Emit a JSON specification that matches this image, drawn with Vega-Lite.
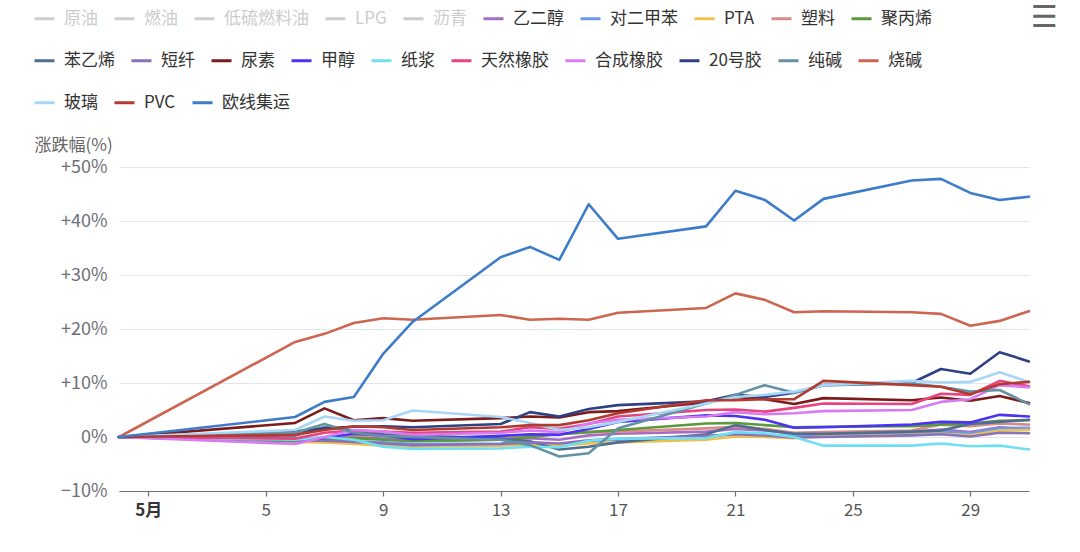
{
  "$schema": "https://vega.github.io/schema/vega-lite/v6.json",
  "autosize": "none",
  "width": 910,
  "height": 324,
  "padding": {"left": 119, "top": 167, "right": 51, "bottom": 61},
  "background": "#ffffff",
  "title": {"text": "☰", "anchor": "end", "frame": "group", "dx": 29, "dy": 30, "fontSize": 30, "font": "DejaVu Sans", "color": "#666666", "fontWeight": "normal"},
  "config": {
    "view": {"stroke": null},
    "font": "Noto Sans CJK SC",
    "legend": {
      "title": null, "orient": "none", "legendX": -86,
      "direction": "horizontal",
      "symbolType": "stroke", "symbolSize": 400, "symbolStrokeWidth": 3,
      "labelFontSize": 17, "labelOffset": 8, "columnPadding": 10,
      "labelColor": "#333333", "labelLimit": 300
    }
  },
  "data": {"values": [
    {"s":"乙二醇","d":"2024-04-30","v":0},{"s":"乙二醇","d":"2024-05-06","v":-1.0},{"s":"乙二醇","d":"2024-05-07","v":-0.4},{"s":"乙二醇","d":"2024-05-08","v":0.0},{"s":"乙二醇","d":"2024-05-09","v":-0.3},{"s":"乙二醇","d":"2024-05-10","v":-0.7},{"s":"乙二醇","d":"2024-05-13","v":-0.5},{"s":"乙二醇","d":"2024-05-14","v":-0.2},{"s":"乙二醇","d":"2024-05-15","v":-0.5},{"s":"乙二醇","d":"2024-05-16","v":0.3},{"s":"乙二醇","d":"2024-05-17","v":0.6},{"s":"乙二醇","d":"2024-05-20","v":1.0},{"s":"乙二醇","d":"2024-05-21","v":1.5},{"s":"乙二醇","d":"2024-05-22","v":1.2},{"s":"乙二醇","d":"2024-05-23","v":0.6},{"s":"乙二醇","d":"2024-05-24","v":0.8},{"s":"乙二醇","d":"2024-05-27","v":1.0},{"s":"乙二醇","d":"2024-05-28","v":1.4},{"s":"乙二醇","d":"2024-05-29","v":0.9},{"s":"乙二醇","d":"2024-05-30","v":1.8},{"s":"乙二醇","d":"2024-05-31","v":1.5},
    {"s":"对二甲苯","d":"2024-04-30","v":0},{"s":"对二甲苯","d":"2024-05-06","v":-0.5},{"s":"对二甲苯","d":"2024-05-07","v":-0.6},{"s":"对二甲苯","d":"2024-05-08","v":-0.8},{"s":"对二甲苯","d":"2024-05-09","v":-1.0},{"s":"对二甲苯","d":"2024-05-10","v":-1.3},{"s":"对二甲苯","d":"2024-05-13","v":-1.2},{"s":"对二甲苯","d":"2024-05-14","v":-1.0},{"s":"对二甲苯","d":"2024-05-15","v":-1.4},{"s":"对二甲苯","d":"2024-05-16","v":-0.8},{"s":"对二甲苯","d":"2024-05-17","v":-0.5},{"s":"对二甲苯","d":"2024-05-20","v":0.0},{"s":"对二甲苯","d":"2024-05-21","v":0.6},{"s":"对二甲苯","d":"2024-05-22","v":0.4},{"s":"对二甲苯","d":"2024-05-23","v":0.2},{"s":"对二甲苯","d":"2024-05-24","v":0.4},{"s":"对二甲苯","d":"2024-05-27","v":0.7},{"s":"对二甲苯","d":"2024-05-28","v":1.0},{"s":"对二甲苯","d":"2024-05-29","v":0.7},{"s":"对二甲苯","d":"2024-05-30","v":1.6},{"s":"对二甲苯","d":"2024-05-31","v":1.7},
    {"s":"PTA","d":"2024-04-30","v":0},{"s":"PTA","d":"2024-05-06","v":-0.9},{"s":"PTA","d":"2024-05-07","v":-1.0},{"s":"PTA","d":"2024-05-08","v":-1.3},{"s":"PTA","d":"2024-05-09","v":-1.6},{"s":"PTA","d":"2024-05-10","v":-1.8},{"s":"PTA","d":"2024-05-13","v":-1.6},{"s":"PTA","d":"2024-05-14","v":-1.5},{"s":"PTA","d":"2024-05-15","v":-1.6},{"s":"PTA","d":"2024-05-16","v":-1.2},{"s":"PTA","d":"2024-05-17","v":-1.0},{"s":"PTA","d":"2024-05-20","v":-0.5},{"s":"PTA","d":"2024-05-21","v":0.1},{"s":"PTA","d":"2024-05-22","v":0.0},{"s":"PTA","d":"2024-05-23","v":-0.2},{"s":"PTA","d":"2024-05-24","v":0.1},{"s":"PTA","d":"2024-05-27","v":0.4},{"s":"PTA","d":"2024-05-28","v":0.6},{"s":"PTA","d":"2024-05-29","v":0.3},{"s":"PTA","d":"2024-05-30","v":1.2},{"s":"PTA","d":"2024-05-31","v":1.3},
    {"s":"塑料","d":"2024-04-30","v":0},{"s":"塑料","d":"2024-05-06","v":-0.3},{"s":"塑料","d":"2024-05-07","v":-0.1},{"s":"塑料","d":"2024-05-08","v":0.4},{"s":"塑料","d":"2024-05-09","v":0.2},{"s":"塑料","d":"2024-05-10","v":-0.2},{"s":"塑料","d":"2024-05-13","v":0.0},{"s":"塑料","d":"2024-05-14","v":0.3},{"s":"塑料","d":"2024-05-15","v":0.5},{"s":"塑料","d":"2024-05-16","v":0.9},{"s":"塑料","d":"2024-05-17","v":1.0},{"s":"塑料","d":"2024-05-20","v":1.6},{"s":"塑料","d":"2024-05-21","v":1.9},{"s":"塑料","d":"2024-05-22","v":1.5},{"s":"塑料","d":"2024-05-23","v":0.8},{"s":"塑料","d":"2024-05-24","v":0.9},{"s":"塑料","d":"2024-05-27","v":1.2},{"s":"塑料","d":"2024-05-28","v":2.3},{"s":"塑料","d":"2024-05-29","v":2.0},{"s":"塑料","d":"2024-05-30","v":2.5},{"s":"塑料","d":"2024-05-31","v":2.3},
    {"s":"聚丙烯","d":"2024-04-30","v":0},{"s":"聚丙烯","d":"2024-05-06","v":-0.8},{"s":"聚丙烯","d":"2024-05-07","v":-0.5},{"s":"聚丙烯","d":"2024-05-08","v":-0.2},{"s":"聚丙烯","d":"2024-05-09","v":-0.5},{"s":"聚丙烯","d":"2024-05-10","v":-0.8},{"s":"聚丙烯","d":"2024-05-13","v":-0.5},{"s":"聚丙烯","d":"2024-05-14","v":0.0},{"s":"聚丙烯","d":"2024-05-15","v":0.5},{"s":"聚丙烯","d":"2024-05-16","v":0.9},{"s":"聚丙烯","d":"2024-05-17","v":1.3},{"s":"聚丙烯","d":"2024-05-20","v":2.5},{"s":"聚丙烯","d":"2024-05-21","v":2.6},{"s":"聚丙烯","d":"2024-05-22","v":2.2},{"s":"聚丙烯","d":"2024-05-23","v":1.8},{"s":"聚丙烯","d":"2024-05-24","v":1.9},{"s":"聚丙烯","d":"2024-05-27","v":2.0},{"s":"聚丙烯","d":"2024-05-28","v":2.3},{"s":"聚丙烯","d":"2024-05-29","v":2.5},{"s":"聚丙烯","d":"2024-05-30","v":3.0},{"s":"聚丙烯","d":"2024-05-31","v":3.1},
    {"s":"苯乙烯","d":"2024-04-30","v":0},{"s":"苯乙烯","d":"2024-05-06","v":0.3},{"s":"苯乙烯","d":"2024-05-07","v":1.8},{"s":"苯乙烯","d":"2024-05-08","v":1.2},{"s":"苯乙烯","d":"2024-05-09","v":0.5},{"s":"苯乙烯","d":"2024-05-10","v":0.3},{"s":"苯乙烯","d":"2024-05-13","v":-0.3},{"s":"苯乙烯","d":"2024-05-14","v":-0.8},{"s":"苯乙烯","d":"2024-05-15","v":-2.3},{"s":"苯乙烯","d":"2024-05-16","v":-1.8},{"s":"苯乙烯","d":"2024-05-17","v":-1.0},{"s":"苯乙烯","d":"2024-05-20","v":0.5},{"s":"苯乙烯","d":"2024-05-21","v":2.2},{"s":"苯乙烯","d":"2024-05-22","v":1.3},{"s":"苯乙烯","d":"2024-05-23","v":0.6},{"s":"苯乙烯","d":"2024-05-24","v":0.6},{"s":"苯乙烯","d":"2024-05-27","v":1.0},{"s":"苯乙烯","d":"2024-05-28","v":1.2},{"s":"苯乙烯","d":"2024-05-29","v":2.4},{"s":"苯乙烯","d":"2024-05-30","v":2.8},{"s":"苯乙烯","d":"2024-05-31","v":3.2},
    {"s":"短纤","d":"2024-04-30","v":0},{"s":"短纤","d":"2024-05-06","v":-0.6},{"s":"短纤","d":"2024-05-07","v":-0.7},{"s":"短纤","d":"2024-05-08","v":-0.9},{"s":"短纤","d":"2024-05-09","v":-1.2},{"s":"短纤","d":"2024-05-10","v":-1.5},{"s":"短纤","d":"2024-05-13","v":-1.3},{"s":"短纤","d":"2024-05-14","v":-1.0},{"s":"短纤","d":"2024-05-15","v":-1.2},{"s":"短纤","d":"2024-05-16","v":-0.6},{"s":"短纤","d":"2024-05-17","v":-0.4},{"s":"短纤","d":"2024-05-20","v":0.2},{"s":"短纤","d":"2024-05-21","v":0.5},{"s":"短纤","d":"2024-05-22","v":0.3},{"s":"短纤","d":"2024-05-23","v":-0.1},{"s":"短纤","d":"2024-05-24","v":0.0},{"s":"短纤","d":"2024-05-27","v":0.3},{"s":"短纤","d":"2024-05-28","v":0.5},{"s":"短纤","d":"2024-05-29","v":0.1},{"s":"短纤","d":"2024-05-30","v":0.8},{"s":"短纤","d":"2024-05-31","v":0.7},
    {"s":"尿素","d":"2024-04-30","v":0},{"s":"尿素","d":"2024-05-06","v":2.6},{"s":"尿素","d":"2024-05-07","v":5.3},{"s":"尿素","d":"2024-05-08","v":3.1},{"s":"尿素","d":"2024-05-09","v":3.5},{"s":"尿素","d":"2024-05-10","v":3.0},{"s":"尿素","d":"2024-05-13","v":3.5},{"s":"尿素","d":"2024-05-14","v":3.8},{"s":"尿素","d":"2024-05-15","v":3.6},{"s":"尿素","d":"2024-05-16","v":4.6},{"s":"尿素","d":"2024-05-17","v":4.8},{"s":"尿素","d":"2024-05-20","v":6.4},{"s":"尿素","d":"2024-05-21","v":7.4},{"s":"尿素","d":"2024-05-22","v":7.0},{"s":"尿素","d":"2024-05-23","v":6.1},{"s":"尿素","d":"2024-05-24","v":7.2},{"s":"尿素","d":"2024-05-27","v":6.8},{"s":"尿素","d":"2024-05-28","v":7.3},{"s":"尿素","d":"2024-05-29","v":6.7},{"s":"尿素","d":"2024-05-30","v":7.6},{"s":"尿素","d":"2024-05-31","v":6.3},
    {"s":"甲醇","d":"2024-04-30","v":0},{"s":"甲醇","d":"2024-05-06","v":-0.4},{"s":"甲醇","d":"2024-05-07","v":-0.2},{"s":"甲醇","d":"2024-05-08","v":0.6},{"s":"甲醇","d":"2024-05-09","v":0.3},{"s":"甲醇","d":"2024-05-10","v":-0.4},{"s":"甲醇","d":"2024-05-13","v":0.2},{"s":"甲醇","d":"2024-05-14","v":0.5},{"s":"甲醇","d":"2024-05-15","v":0.4},{"s":"甲醇","d":"2024-05-16","v":1.5},{"s":"甲醇","d":"2024-05-17","v":2.8},{"s":"甲醇","d":"2024-05-20","v":4.0},{"s":"甲醇","d":"2024-05-21","v":3.9},{"s":"甲醇","d":"2024-05-22","v":3.2},{"s":"甲醇","d":"2024-05-23","v":1.7},{"s":"甲醇","d":"2024-05-24","v":1.8},{"s":"甲醇","d":"2024-05-27","v":2.3},{"s":"甲醇","d":"2024-05-28","v":2.8},{"s":"甲醇","d":"2024-05-29","v":2.7},{"s":"甲醇","d":"2024-05-30","v":4.1},{"s":"甲醇","d":"2024-05-31","v":3.8},
    {"s":"纸浆","d":"2024-04-30","v":0},{"s":"纸浆","d":"2024-05-06","v":-0.5},{"s":"纸浆","d":"2024-05-07","v":0.0},{"s":"纸浆","d":"2024-05-08","v":-0.5},{"s":"纸浆","d":"2024-05-09","v":-1.8},{"s":"纸浆","d":"2024-05-10","v":-2.2},{"s":"纸浆","d":"2024-05-13","v":-2.1},{"s":"纸浆","d":"2024-05-14","v":-1.8},{"s":"纸浆","d":"2024-05-15","v":-1.9},{"s":"纸浆","d":"2024-05-16","v":-0.7},{"s":"纸浆","d":"2024-05-17","v":-0.3},{"s":"纸浆","d":"2024-05-20","v":-0.2},{"s":"纸浆","d":"2024-05-21","v":0.9},{"s":"纸浆","d":"2024-05-22","v":0.7},{"s":"纸浆","d":"2024-05-23","v":0.0},{"s":"纸浆","d":"2024-05-24","v":-1.6},{"s":"纸浆","d":"2024-05-27","v":-1.6},{"s":"纸浆","d":"2024-05-28","v":-1.2},{"s":"纸浆","d":"2024-05-29","v":-1.7},{"s":"纸浆","d":"2024-05-30","v":-1.6},{"s":"纸浆","d":"2024-05-31","v":-2.3},
    {"s":"天然橡胶","d":"2024-04-30","v":0},{"s":"天然橡胶","d":"2024-05-06","v":-0.3},{"s":"天然橡胶","d":"2024-05-07","v":0.8},{"s":"天然橡胶","d":"2024-05-08","v":1.2},{"s":"天然橡胶","d":"2024-05-09","v":1.0},{"s":"天然橡胶","d":"2024-05-10","v":0.8},{"s":"天然橡胶","d":"2024-05-13","v":1.0},{"s":"天然橡胶","d":"2024-05-14","v":1.8},{"s":"天然橡胶","d":"2024-05-15","v":1.5},{"s":"天然橡胶","d":"2024-05-16","v":2.4},{"s":"天然橡胶","d":"2024-05-17","v":3.8},{"s":"天然橡胶","d":"2024-05-20","v":5.0},{"s":"天然橡胶","d":"2024-05-21","v":5.1},{"s":"天然橡胶","d":"2024-05-22","v":4.7},{"s":"天然橡胶","d":"2024-05-23","v":5.4},{"s":"天然橡胶","d":"2024-05-24","v":6.2},{"s":"天然橡胶","d":"2024-05-27","v":6.1},{"s":"天然橡胶","d":"2024-05-28","v":8.0},{"s":"天然橡胶","d":"2024-05-29","v":7.8},{"s":"天然橡胶","d":"2024-05-30","v":10.4},{"s":"天然橡胶","d":"2024-05-31","v":9.4},
    {"s":"合成橡胶","d":"2024-04-30","v":0},{"s":"合成橡胶","d":"2024-05-06","v":-1.3},{"s":"合成橡胶","d":"2024-05-07","v":0.0},{"s":"合成橡胶","d":"2024-05-08","v":1.3},{"s":"合成橡胶","d":"2024-05-09","v":1.0},{"s":"合成橡胶","d":"2024-05-10","v":0.4},{"s":"合成橡胶","d":"2024-05-13","v":0.8},{"s":"合成橡胶","d":"2024-05-14","v":1.2},{"s":"合成橡胶","d":"2024-05-15","v":0.9},{"s":"合成橡胶","d":"2024-05-16","v":2.5},{"s":"合成橡胶","d":"2024-05-17","v":3.2},{"s":"合成橡胶","d":"2024-05-20","v":3.8},{"s":"合成橡胶","d":"2024-05-21","v":4.6},{"s":"合成橡胶","d":"2024-05-22","v":4.2},{"s":"合成橡胶","d":"2024-05-23","v":4.4},{"s":"合成橡胶","d":"2024-05-24","v":4.8},{"s":"合成橡胶","d":"2024-05-27","v":5.0},{"s":"合成橡胶","d":"2024-05-28","v":6.5},{"s":"合成橡胶","d":"2024-05-29","v":7.0},{"s":"合成橡胶","d":"2024-05-30","v":9.6},{"s":"合成橡胶","d":"2024-05-31","v":9.2},
    {"s":"20号胶","d":"2024-04-30","v":0},{"s":"20号胶","d":"2024-05-06","v":1.0},{"s":"20号胶","d":"2024-05-07","v":1.6},{"s":"20号胶","d":"2024-05-08","v":1.9},{"s":"20号胶","d":"2024-05-09","v":2.0},{"s":"20号胶","d":"2024-05-10","v":1.8},{"s":"20号胶","d":"2024-05-13","v":2.4},{"s":"20号胶","d":"2024-05-14","v":4.6},{"s":"20号胶","d":"2024-05-15","v":3.8},{"s":"20号胶","d":"2024-05-16","v":5.2},{"s":"20号胶","d":"2024-05-17","v":5.9},{"s":"20号胶","d":"2024-05-20","v":6.6},{"s":"20号胶","d":"2024-05-21","v":7.8},{"s":"20号胶","d":"2024-05-22","v":7.4},{"s":"20号胶","d":"2024-05-23","v":8.2},{"s":"20号胶","d":"2024-05-24","v":9.6},{"s":"20号胶","d":"2024-05-27","v":10.0},{"s":"20号胶","d":"2024-05-28","v":12.6},{"s":"20号胶","d":"2024-05-29","v":11.7},{"s":"20号胶","d":"2024-05-30","v":15.7},{"s":"20号胶","d":"2024-05-31","v":14.0},
    {"s":"纯碱","d":"2024-04-30","v":0},{"s":"纯碱","d":"2024-05-06","v":0.8},{"s":"纯碱","d":"2024-05-07","v":2.4},{"s":"纯碱","d":"2024-05-08","v":0.8},{"s":"纯碱","d":"2024-05-09","v":0.2},{"s":"纯碱","d":"2024-05-10","v":0.0},{"s":"纯碱","d":"2024-05-13","v":-0.5},{"s":"纯碱","d":"2024-05-14","v":-1.5},{"s":"纯碱","d":"2024-05-15","v":-3.6},{"s":"纯碱","d":"2024-05-16","v":-3.0},{"s":"纯碱","d":"2024-05-17","v":1.6},{"s":"纯碱","d":"2024-05-20","v":6.2},{"s":"纯碱","d":"2024-05-21","v":7.8},{"s":"纯碱","d":"2024-05-22","v":9.6},{"s":"纯碱","d":"2024-05-23","v":8.2},{"s":"纯碱","d":"2024-05-24","v":9.6},{"s":"纯碱","d":"2024-05-27","v":9.9},{"s":"纯碱","d":"2024-05-28","v":9.3},{"s":"纯碱","d":"2024-05-29","v":8.4},{"s":"纯碱","d":"2024-05-30","v":8.7},{"s":"纯碱","d":"2024-05-31","v":6.1},
    {"s":"烧碱","d":"2024-04-30","v":0},{"s":"烧碱","d":"2024-05-06","v":17.6},{"s":"烧碱","d":"2024-05-07","v":19.1},{"s":"烧碱","d":"2024-05-08","v":21.1},{"s":"烧碱","d":"2024-05-09","v":22.0},{"s":"烧碱","d":"2024-05-10","v":21.7},{"s":"烧碱","d":"2024-05-13","v":22.6},{"s":"烧碱","d":"2024-05-14","v":21.7},{"s":"烧碱","d":"2024-05-15","v":21.9},{"s":"烧碱","d":"2024-05-16","v":21.7},{"s":"烧碱","d":"2024-05-17","v":23.0},{"s":"烧碱","d":"2024-05-20","v":23.9},{"s":"烧碱","d":"2024-05-21","v":26.6},{"s":"烧碱","d":"2024-05-22","v":25.4},{"s":"烧碱","d":"2024-05-23","v":23.1},{"s":"烧碱","d":"2024-05-24","v":23.3},{"s":"烧碱","d":"2024-05-27","v":23.1},{"s":"烧碱","d":"2024-05-28","v":22.8},{"s":"烧碱","d":"2024-05-29","v":20.6},{"s":"烧碱","d":"2024-05-30","v":21.5},{"s":"烧碱","d":"2024-05-31","v":23.3},
    {"s":"玻璃","d":"2024-04-30","v":0},{"s":"玻璃","d":"2024-05-06","v":1.3},{"s":"玻璃","d":"2024-05-07","v":3.8},{"s":"玻璃","d":"2024-05-08","v":3.0},{"s":"玻璃","d":"2024-05-09","v":3.1},{"s":"玻璃","d":"2024-05-10","v":4.9},{"s":"玻璃","d":"2024-05-13","v":3.7},{"s":"玻璃","d":"2024-05-14","v":2.6},{"s":"玻璃","d":"2024-05-15","v":1.3},{"s":"玻璃","d":"2024-05-16","v":1.8},{"s":"玻璃","d":"2024-05-17","v":2.8},{"s":"玻璃","d":"2024-05-20","v":6.2},{"s":"玻璃","d":"2024-05-21","v":7.4},{"s":"玻璃","d":"2024-05-22","v":7.8},{"s":"玻璃","d":"2024-05-23","v":8.4},{"s":"玻璃","d":"2024-05-24","v":9.6},{"s":"玻璃","d":"2024-05-27","v":10.4},{"s":"玻璃","d":"2024-05-28","v":10.1},{"s":"玻璃","d":"2024-05-29","v":10.2},{"s":"玻璃","d":"2024-05-30","v":12.0},{"s":"玻璃","d":"2024-05-31","v":10.2},
    {"s":"PVC","d":"2024-04-30","v":0},{"s":"PVC","d":"2024-05-06","v":0.4},{"s":"PVC","d":"2024-05-07","v":1.3},{"s":"PVC","d":"2024-05-08","v":2.0},{"s":"PVC","d":"2024-05-09","v":1.8},{"s":"PVC","d":"2024-05-10","v":1.3},{"s":"PVC","d":"2024-05-13","v":1.8},{"s":"PVC","d":"2024-05-14","v":2.2},{"s":"PVC","d":"2024-05-15","v":2.2},{"s":"PVC","d":"2024-05-16","v":3.1},{"s":"PVC","d":"2024-05-17","v":4.4},{"s":"PVC","d":"2024-05-20","v":6.8},{"s":"PVC","d":"2024-05-21","v":6.8},{"s":"PVC","d":"2024-05-22","v":7.0},{"s":"PVC","d":"2024-05-23","v":7.0},{"s":"PVC","d":"2024-05-24","v":10.4},{"s":"PVC","d":"2024-05-27","v":9.6},{"s":"PVC","d":"2024-05-28","v":9.3},{"s":"PVC","d":"2024-05-29","v":7.9},{"s":"PVC","d":"2024-05-30","v":9.8},{"s":"PVC","d":"2024-05-31","v":10.2},
    {"s":"欧线集运","d":"2024-04-30","v":0},{"s":"欧线集运","d":"2024-05-06","v":3.7},{"s":"欧线集运","d":"2024-05-07","v":6.5},{"s":"欧线集运","d":"2024-05-08","v":7.4},{"s":"欧线集运","d":"2024-05-09","v":15.4},{"s":"欧线集运","d":"2024-05-10","v":21.3},{"s":"欧线集运","d":"2024-05-13","v":33.3},{"s":"欧线集运","d":"2024-05-14","v":35.2},{"s":"欧线集运","d":"2024-05-15","v":32.8},{"s":"欧线集运","d":"2024-05-16","v":43.1},{"s":"欧线集运","d":"2024-05-17","v":36.7},{"s":"欧线集运","d":"2024-05-20","v":39.0},{"s":"欧线集运","d":"2024-05-21","v":45.6},{"s":"欧线集运","d":"2024-05-22","v":43.9},{"s":"欧线集运","d":"2024-05-23","v":40.1},{"s":"欧线集运","d":"2024-05-24","v":44.1},{"s":"欧线集运","d":"2024-05-27","v":47.5},{"s":"欧线集运","d":"2024-05-28","v":47.8},{"s":"欧线集运","d":"2024-05-29","v":45.2},{"s":"欧线集运","d":"2024-05-30","v":43.9},{"s":"欧线集运","d":"2024-05-31","v":44.5}
  ]},
  "encoding": {
    "x": {
      "field": "d", "type": "temporal",
      "scale": {"type": "utc", "domain": [{"year": 2024, "month": 4, "date": 30, "utc": true}, {"year": 2024, "month": 5, "date": 31, "utc": true}]},
      "axis": {
        "title": null, "grid": false,
        "values": [
          {"year": 2024, "month": 5, "date": 1, "utc": true},
          {"year": 2024, "month": 5, "date": 5, "utc": true},
          {"year": 2024, "month": 5, "date": 9, "utc": true},
          {"year": 2024, "month": 5, "date": 13, "utc": true},
          {"year": 2024, "month": 5, "date": 17, "utc": true},
          {"year": 2024, "month": 5, "date": 21, "utc": true},
          {"year": 2024, "month": 5, "date": 25, "utc": true},
          {"year": 2024, "month": 5, "date": 29, "utc": true}
        ],
        "labelExpr": "utcdate(datum.value) == 1 ? '5月' : '' + utcdate(datum.value)",
        "labelFontSize": 17, "labelColor": {"condition": {"test": "utcdate(datum.value) == 1", "value": "#333333"}, "value": "#555555"},
        "labelFontWeight": {"condition": {"test": "utcdate(datum.value) == 1", "value": "bold"}, "value": "normal"},
        "labelPadding": 6, "labelFlush": false,
        "domainColor": "#6e7079", "domainWidth": 1.2, "tickColor": "#6e7079", "tickSize": 5, "tickWidth": 1.2
      }
    },
    "y": {
      "field": "v", "type": "quantitative",
      "scale": {"domain": [-10, 50], "nice": false},
      "axis": {
        "values": [-10, 0, 10, 20, 30, 40, 50],
        "labelExpr": "datum.value > 0 ? '+' + datum.value + '%' : (datum.value < 0 ? '−' + abs(datum.value) + '%' : '0%')",
        "labelFontSize": 18, "labelColor": "#6e7079", "labelPadding": 12,
        "domain": false, "ticks": false,
        "gridColor": "#e0e6f1", "gridWidth": 1.2,
        "title": "涨跌幅(%)", "titleAngle": 0, "titleAlign": "left", "titleBaseline": "middle",
        "titleX": -85, "titleY": -22, "titleFontSize": 17, "titleFontWeight": "normal", "titleColor": "#666666"
      }
    }
  },
  "layer": [
    {
      "transform": [{"filter": "indexof(['乙二醇','对二甲苯','PTA','塑料','聚丙烯'], datum.s) >= 0"}],
      "mark": {"type": "line", "strokeWidth": 2.6, "strokeJoin": "round", "strokeCap": "round"},
      "encoding": {
        "color": {
          "field": "s", "type": "nominal",
          "scale": {
            "domain": ["原油","燃油","低硫燃料油","LPG","沥青","乙二醇","对二甲苯","PTA","塑料","聚丙烯"],
            "range": ["#cccccc","#cccccc","#cccccc","#cccccc","#cccccc","#a46cc4","#6b9be8","#f0c04e","#d98a8a","#5a9a3a"]
          },
          "legend": {
            "legendY": -160,
            "labelColor": {"expr": "indexof(['原油','燃油','低硫燃料油','LPG','沥青'], datum.label) >= 0 ? '#cccccc' : '#333333'"}
          }
        }
      }
    },
    {
      "transform": [{"filter": "indexof(['苯乙烯','短纤','尿素','甲醇','纸浆','天然橡胶','合成橡胶','20号胶','纯碱','烧碱'], datum.s) >= 0"}],
      "mark": {"type": "line", "strokeWidth": 2.6, "strokeJoin": "round", "strokeCap": "round"},
      "encoding": {
        "color": {
          "field": "s", "type": "nominal",
          "scale": {
            "domain": ["苯乙烯","短纤","尿素","甲醇","纸浆","天然橡胶","合成橡胶","20号胶","纯碱","烧碱"],
            "range": ["#4e6e91","#8a72b8","#7d1a1a","#4b32f5","#6fe0f2","#e8437f","#d97af5","#2d4184","#6393a3","#cc6650"]
          },
          "legend": {"legendY": -118}
        }
      }
    },
    {
      "transform": [{"filter": "indexof(['玻璃','PVC','欧线集运'], datum.s) >= 0"}],
      "mark": {"type": "line", "strokeWidth": 2.6, "strokeJoin": "round", "strokeCap": "round"},
      "encoding": {
        "color": {
          "field": "s", "type": "nominal",
          "scale": {
            "domain": ["玻璃","PVC","欧线集运"],
            "range": ["#a8d6f7","#b23a30","#3d7cc9"]
          },
          "legend": {"legendY": -76}
        }
      }
    }
  ],
  "resolve": {"scale": {"color": "independent"}, "legend": {"color": "independent"}}
}
